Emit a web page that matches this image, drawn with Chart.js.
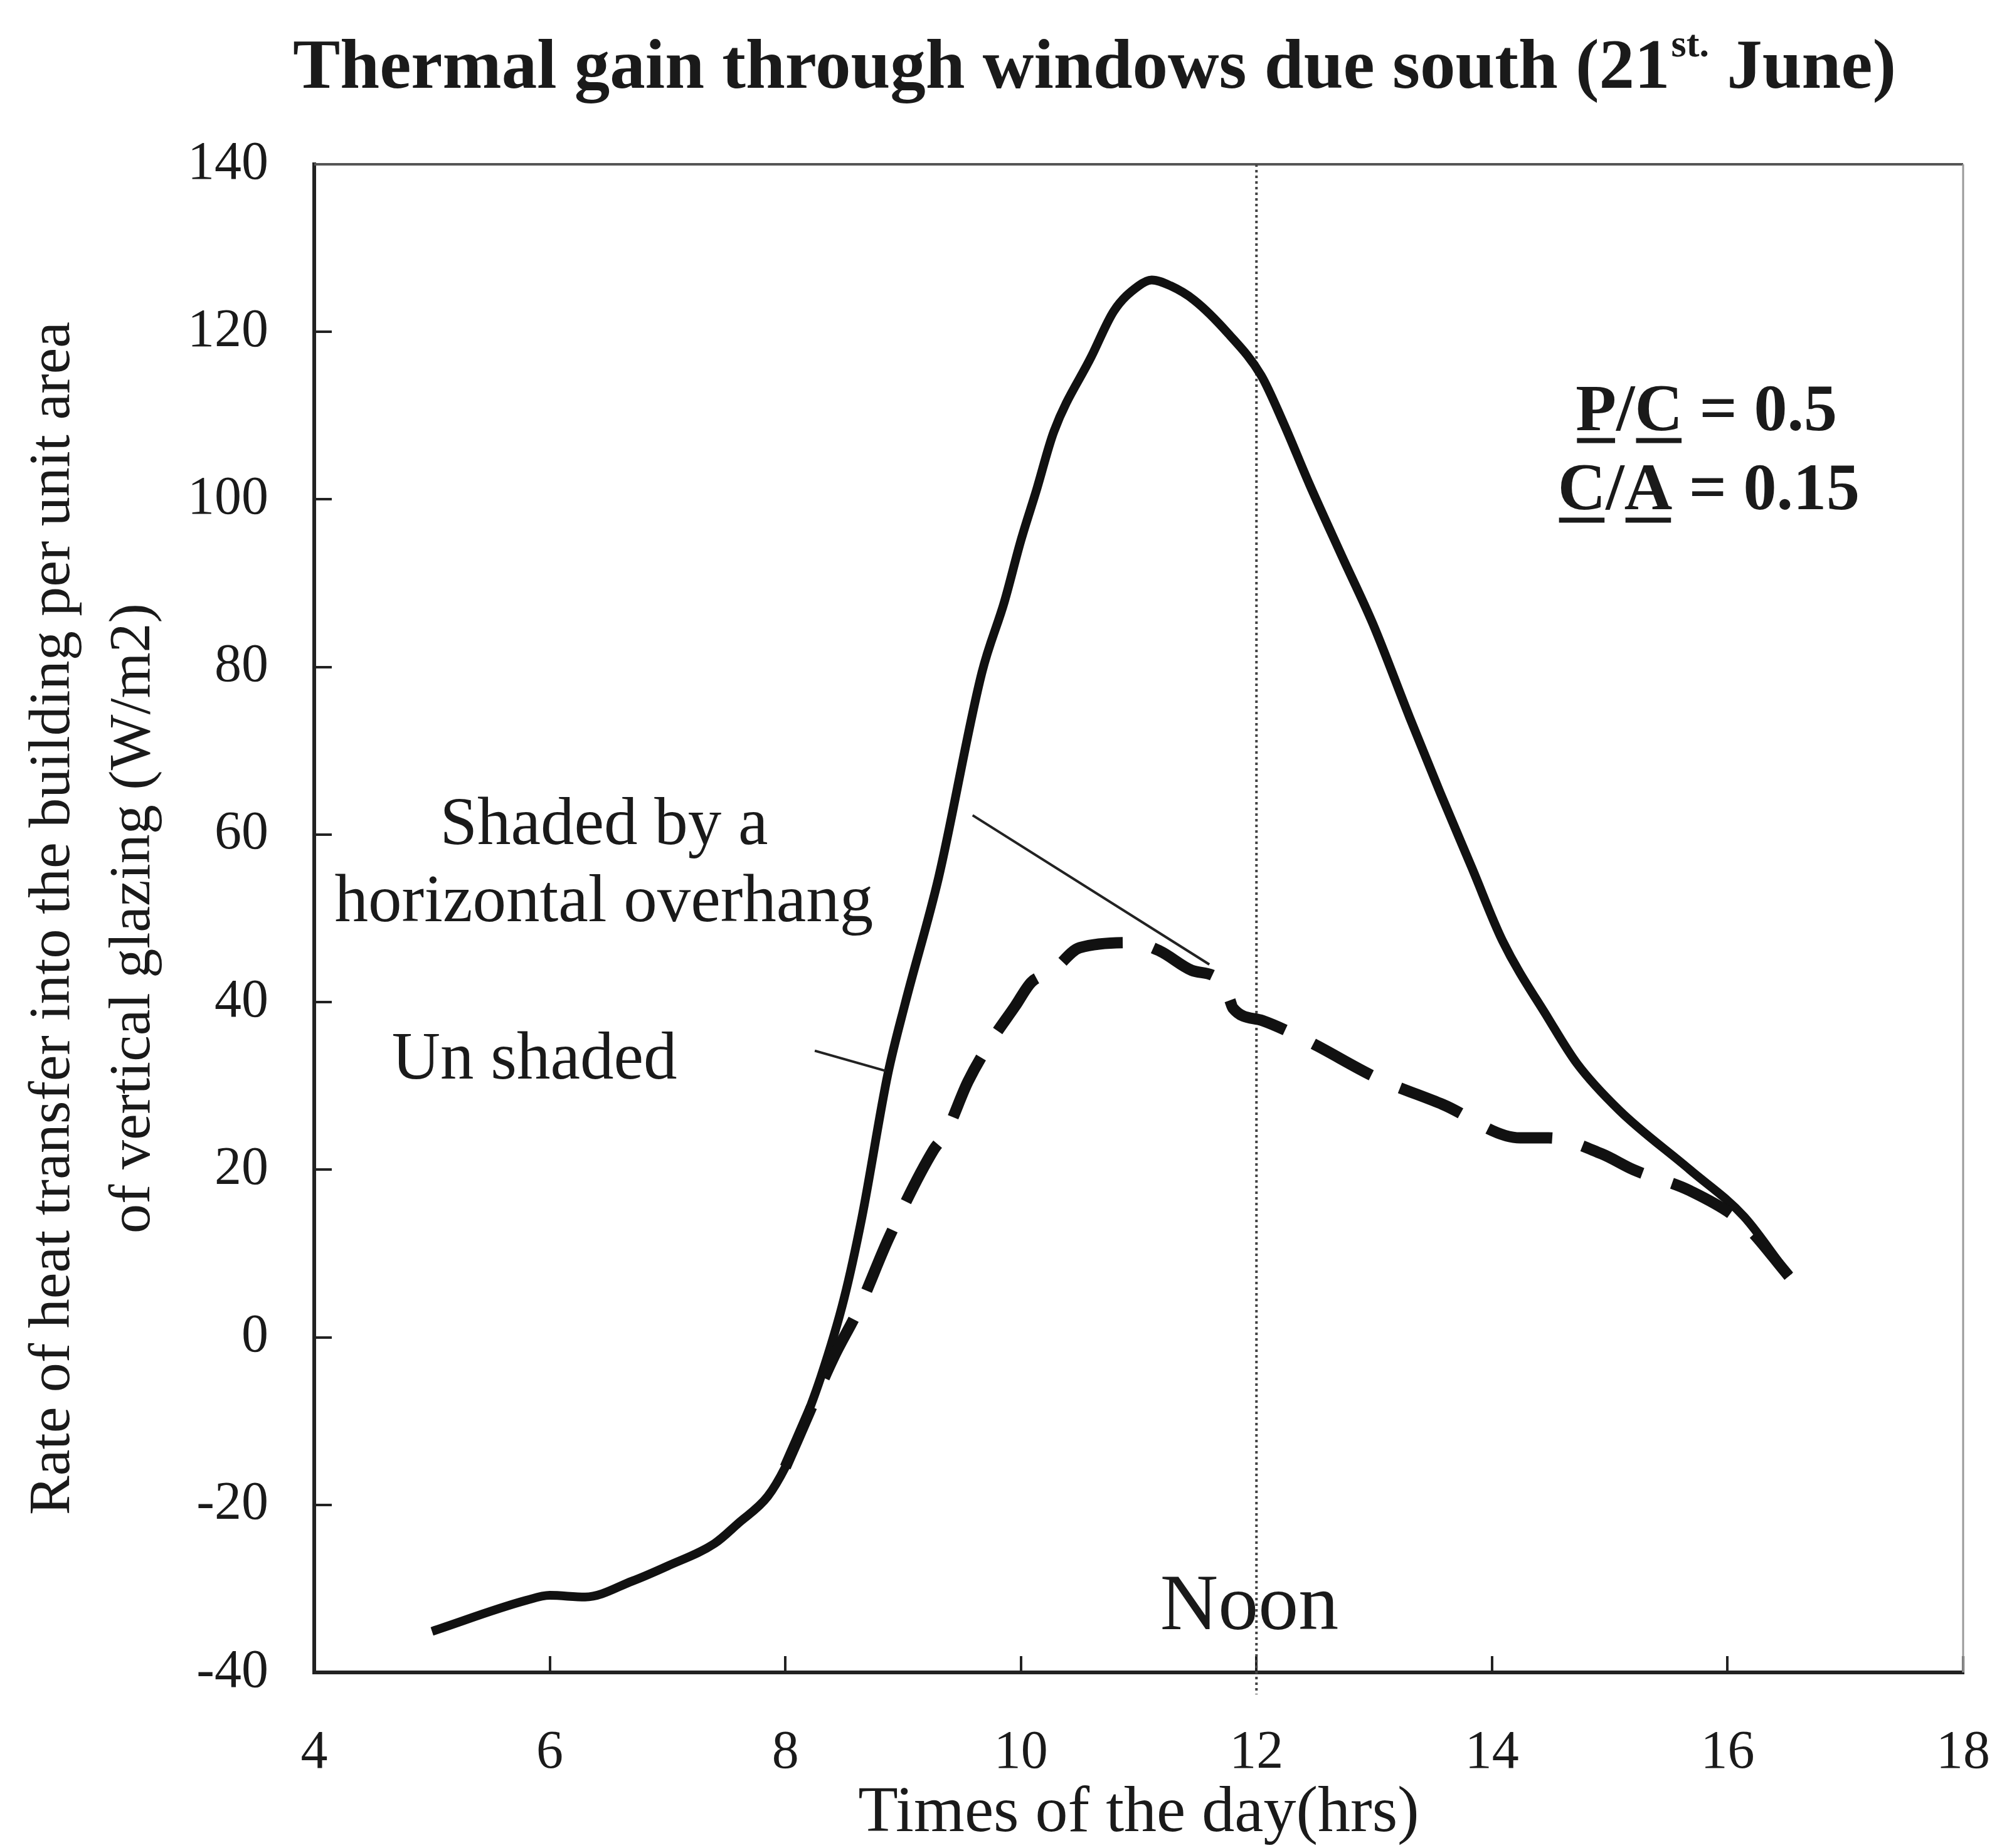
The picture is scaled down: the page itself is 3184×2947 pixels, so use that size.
<!DOCTYPE html>
<html>
<head>
<meta charset="utf-8">
<script src="https://cdn.jsdelivr.net/npm/chart.js@4.4.1/dist/chart.umd.min.js"></script>
<style>
  html, body { margin: 0; padding: 0; background: #fff; }
  #wrap { width: 3184px; height: 2947px; }
</style>
</head>
<body>
<div id="wrap"><canvas id="chart"></canvas></div>
<script>
// values (hours, W/m2)
const hoursUnshaded = [5.0, 5.8, 6.0, 6.3, 6.7, 7.0, 7.4, 7.6, 7.85, 8.0, 8.1, 8.3, 8.5, 8.65, 8.87, 9.02, 9.3,
  9.67, 9.86, 10.0, 10.13, 10.28, 10.6, 10.79, 11.0, 11.11, 11.27, 11.47, 11.76, 12.04, 12.23, 12.45, 12.72,
  12.99, 13.3, 13.56, 13.83, 14.09, 14.48, 14.72, 15.08, 15.68, 16.14, 16.52];
const unshaded = [-35.1, -31.4, -30.8, -31.0, -29.1, -27.3, -24.6, -22.2, -19.0, -15.5, -12.3, -4.8, 4.7, 14.3,
  31.4, 40.0, 54.8, 79.4, 87.8, 95.1, 101.0, 108.1, 117.1, 122.5, 125.5, 126.2, 125.5, 123.8, 119.8, 114.8,
  109.1, 101.8, 93.4, 85.1, 74.0, 65.0, 56.0, 47.3, 38.0, 32.7, 27.1, 20.0, 14.4, 7.3];

const hoursShaded = [8.0, 8.1, 8.41, 8.62, 8.88, 9.26, 9.36, 9.55, 9.74, 9.95, 10.09, 10.26, 10.5, 10.96, 11.18,
  11.45, 11.67, 11.77, 11.8, 12.05, 12.43, 13.03, 13.58, 14.24, 14.48, 14.93, 15.2, 15.68, 16.14, 16.52];
const shaded = [-15.5, -12.3, -2.4, 3.3, 11.9, 22.4, 24.3, 30.5, 35.2, 39.5, 42.4, 43.6, 46.5, 47.1, 46.1,
  43.8, 42.8, 40.4, 39.3, 37.8, 35.4, 30.9, 27.8, 23.8, 23.8, 21.9, 20.0, 17.5, 13.5, 7.3];

const xTicks = [4, 6, 8, 10, 12, 14, 16, 18];
const yTicks = [-40, -20, 0, 20, 40, 60, 80, 100, 120, 140];
const noonHour = 12;

const serif = '"Liberation Serif", "Times New Roman", serif';
const ink = "#1a1a1a";

const toPoints = (xs, ys) => xs.map((x, i) => ({ x: x, y: ys[i] }));

const extras = {
  id: "extras",
  beforeDatasetsDraw(chart) {
    const c = chart.ctx, a = chart.chartArea;
    const px = v => chart.scales.x.getPixelForValue(v);
    c.save();
    // top and right frame
    c.strokeStyle = "#555";
    c.lineWidth = 4;
    c.beginPath();
    c.moveTo(a.left, a.top);
    c.lineTo(a.right, a.top);
    c.stroke();
    c.strokeStyle = "#999";
    c.lineWidth = 3;
    c.beginPath();
    c.moveTo(a.right, a.top);
    c.lineTo(a.right, a.bottom);
    c.stroke();
    // noon line
    c.strokeStyle = "#444";
    c.lineWidth = 4;
    c.setLineDash([4, 5]);
    c.beginPath();
    c.moveTo(px(noonHour), a.top);
    c.lineTo(px(noonHour), a.bottom + 35);
    c.stroke();
    c.restore();
  },
  afterDatasetsDraw(chart) {
    const c = chart.ctx;
    const px = v => chart.scales.x.getPixelForValue(v);
    const py = v => chart.scales.y.getPixelForValue(v);
    c.save();
    // leader lines
    c.strokeStyle = "#222";
    c.lineWidth = 4;
    c.beginPath();
    c.moveTo(px(9.59), py(62.3));
    c.lineTo(px(11.6), py(44.5));
    c.moveTo(px(8.25), py(34.2));
    c.lineTo(px(8.85), py(31.8));
    c.stroke();

    c.fillStyle = ink;
    c.textAlign = "center";
    c.textBaseline = "alphabetic";
    c.font = "107px " + serif;
    c.fillText("Shaded by a", px(6.46), py(58.9));
    c.fillText("horizontal overhang", px(6.46), py(49.7));
    c.fillText("Un shaded", px(5.87), py(30.9));
    c.font = "128px " + serif;
    c.fillText("Noon", px(11.94), py(-34.8));

    // P/C and C/A labels with underlined letters
    c.font = "bold 106px " + serif;
    c.textAlign = "left";
    const ratioLine = (parts, cx, base) => {
      const total = parts.reduce((s, p) => s + c.measureText(p[0]).width, 0);
      let x = cx - total / 2;
      parts.forEach(p => {
        const w = c.measureText(p[0]).width;
        c.fillText(p[0], x, base);
        if (p[1]) c.fillRect(x + 2, base + 13, w - 4, 8);
        x += w;
      });
    };
    ratioLine([["P", true], ["/", false], ["C", true], [" = 0.5", false]], px(15.82), py(108.3));
    ratioLine([["C", true], ["/", false], ["A", true], [" = 0.15", false]], px(15.84), py(98.8));
    c.restore();
  },
  afterDraw(chart) {
    const c = chart.ctx;
    c.save();
    c.fillStyle = ink;
    c.textAlign = "left";
    c.textBaseline = "alphabetic";
    let x = 467;
    const base = 140;
    c.font = "bold 113px " + serif;
    const t1 = "Thermal gain through windows due south (21";
    c.fillText(t1, x, base);
    x += c.measureText(t1).width + 2;
    c.font = "bold 62px " + serif;
    c.fillText("st.", x, base - 50);
    x += c.measureText("st.").width;
    c.font = "bold 113px " + serif;
    c.fillText(" June)", x, base);
    c.restore();
  }
};

Chart.defaults.color = ink;
Chart.defaults.font.family = serif;

new Chart(document.getElementById("chart"), {
  type: "line",
  data: {
    datasets: [
      {
        label: "Shaded by a horizontal overhang",
        data: toPoints(hoursShaded, shaded),
        borderColor: "#111",
        borderWidth: 18,
        borderDash: [105, 50],
        borderCapStyle: "butt",
        pointRadius: 0,
        cubicInterpolationMode: "monotone",
        fill: false,
        order: 0
      },
      {
        label: "Un shaded",
        data: toPoints(hoursUnshaded, unshaded),
        borderColor: "#111",
        borderWidth: 14,
        pointRadius: 0,
        cubicInterpolationMode: "monotone",
        fill: false,
        order: 1
      }
    ]
  },
  options: {
    responsive: true,
    maintainAspectRatio: false,
    animation: false,
    devicePixelRatio: 1,
    layout: { padding: { left: 0, right: 54, top: 262, bottom: 0 } },
    plugins: {
      legend: { display: false },
      tooltip: { enabled: false },
      title: { display: false }
    },
    scales: {
      x: {
        type: "linear",
        min: 4,
        max: 18,
        afterBuildTicks: s => { s.ticks = xTicks.map(v => ({ value: v })); },
        afterFit: s => { s.height = 280; s.paddingLeft = 0; s.paddingRight = 0; },
        border: { display: true, color: "#222", width: 6 },
        grid: { drawOnChartArea: false, drawTicks: true, tickLength: -26, color: "#222", lineWidth: 4 },
        ticks: { font: { size: 86 }, padding: 104, color: ink, maxRotation: 0 },
        title: {
          display: true,
          text: "Times of the day(hrs)",
          font: { size: 104, lineHeight: 1.0 },
          padding: { top: 0, bottom: 2 },
          color: ink
        }
      },
      y: {
        type: "linear",
        min: -40,
        max: 140,
        afterBuildTicks: s => { s.ticks = yTicks.map(v => ({ value: v })); },
        afterFit: s => { s.width = 501; },
        border: { display: true, color: "#222", width: 6 },
        grid: { drawOnChartArea: false, drawTicks: true, tickLength: -28, color: "#222", lineWidth: 4 },
        ticks: { font: { size: 86 }, padding: 101, color: ink },
        title: {
          display: true,
          text: ["Rate of heat transfer into the building per unit area", "of vertical glazing (W/m2)"],
          font: { size: 94, lineHeight: "128px" },
          padding: { top: 21, bottom: 0 },
          color: ink
        }
      }
    }
  },
  plugins: [extras]
});
</script>
</body>
</html>
